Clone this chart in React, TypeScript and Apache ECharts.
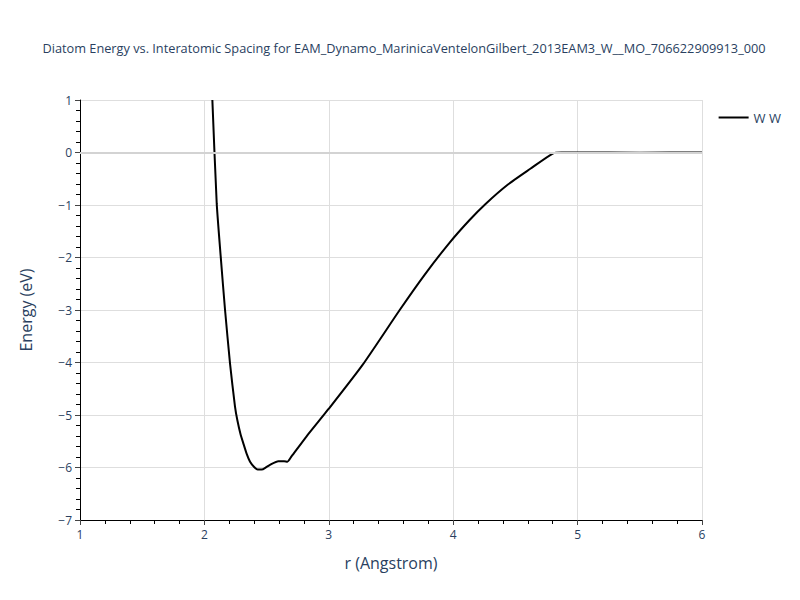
import React, { useEffect, useRef } from "react";
import * as echarts from "echarts";

const TITLE = "Diatom Energy vs. Interatomic Spacing for EAM_Dynamo_MarinicaVentelonGilbert_2013EAM3_W__MO_706622909913_000";
const SERIES_NAME = "W W";
const rValues = [
  2.064, 2.099, 2.131, 2.166, 2.206, 2.246, 2.265, 2.29, 2.313, 2.34, 2.367, 2.40, 2.428, 2.46,
  2.50, 2.527, 2.594, 2.64, 2.667, 2.70, 2.82, 3.0, 3.27, 3.57, 3.77, 3.97, 4.13, 4.26, 4.44,
  4.62, 4.80, 4.87, 5.0, 5.5, 6.0,
];
const energyValues = [
  1.0, -0.97, -1.98, -3.0, -4.02, -4.84, -5.1, -5.36, -5.54, -5.74, -5.89, -5.99, -6.04, -6.04,
  -5.99, -5.95, -5.88, -5.88, -5.89, -5.79, -5.41, -4.88, -4.05, -3.0, -2.33, -1.72, -1.29, -0.98,
  -0.61, -0.31, -0.02, 0.0, 0.0, -0.003, 0.0,
];
const X_MIN = 1, X_MAX = 6, Y_MIN = -7, Y_MAX = 1;

const FONT = "'Open Sans', 'Noto Sans', sans-serif";
const TEXT = "#2a3f5f";

export default function App() {
  const ref = useRef<HTMLDivElement>(null);
  useEffect(() => {
    const chart = echarts.init(ref.current!, null, { renderer: "svg" });
    const minus = (v: number) => String(v).replace("-", "\u2212");
    chart.setOption({
      animation: false,
      backgroundColor: "#fff",
      textStyle: { fontFamily: FONT },
      title: {
        text: TITLE,
        left: 399,
        top: 36,
        textAlign: "center",
        textStyle: { fontFamily: FONT, fontSize: 12.75, fontWeight: "normal", color: TEXT },
      },
      legend: {
        right: 14,
        top: 106,
        icon: "path://M0,0 L30,0 L30,2 L0,2 Z",
        itemWidth: 30,
        itemHeight: 2,
        itemGap: 5,
        textStyle: { fontFamily: FONT, fontSize: 13, color: TEXT },
        data: [SERIES_NAME],
      },
      grid: { left: 80, right: 98, top: 100, bottom: 80, containLabel: false },
      xAxis: {
        type: "value",
        min: X_MIN,
        max: X_MAX,
        interval: 1,
        name: "r (Angstrom)",
        nameLocation: "middle",
        nameGap: 35,
        nameTextStyle: { fontFamily: FONT, fontSize: 16, color: TEXT },
        axisLine: { show: true, onZero: false, lineStyle: { color: "#000", width: 1 } },
        axisTick: { show: true, length: 5, lineStyle: { color: "#444" } },
        minorTick: { show: true, splitNumber: 5, length: 4, lineStyle: { color: "#000" } },
        axisLabel: { fontFamily: FONT, fontSize: 12, color: TEXT, margin: 8, formatter: minus },
        splitLine: { show: true, lineStyle: { color: "#dedede", width: 1 } },
      },
      yAxis: {
        type: "value",
        min: Y_MIN,
        max: Y_MAX,
        interval: 1,
        name: "Energy (eV)",
        nameLocation: "middle",
        nameGap: 46,
        nameTextStyle: { fontFamily: FONT, fontSize: 16, color: TEXT },
        axisLine: { show: true, onZero: false, lineStyle: { color: "#000", width: 1 } },
        axisTick: { show: true, length: 5, lineStyle: { color: "#444" } },
        minorTick: { show: true, splitNumber: 5, length: 4, lineStyle: { color: "#000" } },
        axisLabel: { fontFamily: FONT, fontSize: 12, color: TEXT, margin: 8, formatter: minus },
        splitLine: { show: true, lineStyle: { color: "#dedede", width: 1 } },
      },
      series: [
        {
          name: SERIES_NAME,
          type: "line",
          data: rValues.map((r, i) => [r, energyValues[i]]),
          showSymbol: false,
          smooth: 0.2,
          clip: true,
          lineStyle: { color: "#000", width: 2 },
          itemStyle: { color: "#000" },
          markLine: {
            silent: true,
            symbol: "none",
            label: { show: false },
            lineStyle: { color: "#d3d3d3", width: 2, type: "solid" },
            data: [{ yAxis: 0 }],
          },
          z: 3,
        },
      ],
    });
    return () => chart.dispose();
  }, []);
  return <div ref={ref} style={{ width: 800, height: 600, position: "absolute", left: 0, top: 0 }} />;
}
